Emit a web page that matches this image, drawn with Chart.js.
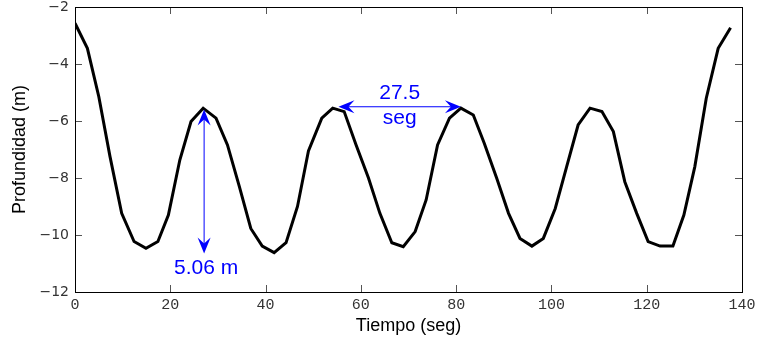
<!DOCTYPE html>
<html>
<head>
<meta charset="utf-8">
<script src="https://cdn.jsdelivr.net/npm/chart.js@4.4.0/dist/chart.umd.min.js"></script>
<style>
  html, body { margin: 0; padding: 0; background: #fff; }
  #wrap { width: 761px; height: 343px; }
</style>
</head>
<body>
<div id="wrap"><canvas id="c" width="761" height="343"></canvas></div>
<script>
// ---- data ----
const timeSec = [0, 2.6, 5.0, 7.35, 9.8, 12.4, 14.9, 17.4, 19.6, 22.0, 24.35, 26.9, 29.6, 32.0, 34.5, 36.9, 39.3, 41.8, 44.3, 46.7,
  49.0, 51.8, 54.1, 56.5, 59.0, 61.6, 64.0, 66.5, 68.9, 71.4, 73.7, 76.1, 78.6, 81.0, 83.6, 85.9, 88.5, 91.0, 93.4, 95.9,
  98.3, 100.8, 103.2, 105.6, 108.1, 110.6, 113.0, 115.4, 117.9, 120.3, 122.8, 125.5, 127.8, 130.1, 132.5, 135.0, 137.6];
const depthM = [-2.57, -3.45, -5.15, -7.25, -9.24, -10.23, -10.47, -10.23, -9.3, -7.37, -6.02, -5.55, -5.9, -6.84, -8.3, -9.77, -10.39, -10.62, -10.27, -9.0,
  -7.05, -5.9, -5.55, -5.67, -6.84, -8.0, -9.24, -10.27, -10.41, -9.88, -8.77, -6.84, -5.9, -5.55, -5.79, -6.78, -8.0, -9.24, -10.12, -10.39,
  -10.12, -9.07, -7.6, -6.14, -5.55, -5.67, -6.37, -8.13, -9.24, -10.23, -10.39, -10.39, -9.3, -7.6, -5.2, -3.45, -2.73];
const xTickValues = [0, 20, 40, 60, 80, 100, 120, 140];
const xTickLabels = ['0', '20', '40', '60', '80', '100', '120', '140'];
const yTickValues = [-12, -10, -8, -6, -4, -2];
const yTickLabels = ['\u221212', '\u221210', '\u22128', '\u22126', '\u22124', '\u22122'];
const xTitle = 'Tiempo (seg)';
const yTitle = 'Profundidad (m)';
// annotations (data coordinates)
const ampArrow = { x: 27.1, yTop: -5.6, yBottom: -10.65, label: '5.06 m' };
const periodArrow = { y: -5.5, xLeft: 55.3, xRight: 81.0, label1: '27.5', label2: 'seg' };

const points = timeSec.map((t, i) => ({ x: t, y: depthM[i] }));
const BLUE = '#0000ff';

function arrowHead(ctx, tipX, tipY, dirX, dirY) {
  const L = 16, W = 6.5, N = 10;
  const px = -dirY, py = dirX;
  const bx = tipX - dirX * L, by = tipY - dirY * L;
  const nx = tipX - dirX * N, ny = tipY - dirY * N;
  ctx.beginPath();
  ctx.moveTo(tipX, tipY);
  ctx.lineTo(bx + px * W, by + py * W);
  ctx.lineTo(nx, ny);
  ctx.lineTo(bx - px * W, by - py * W);
  ctx.closePath();
  ctx.fill();
}

const framePlugin = {
  id: 'frame',
  afterDraw(chart) {
    const { ctx, chartArea: a, scales } = chart;
    const xs = scales.x, ys = scales.y;
    ctx.save();
    // inward ticks
    ctx.strokeStyle = '#555';
    ctx.lineWidth = 1;
    ctx.beginPath();
    xTickValues.forEach(v => {
      const px = Math.round(xs.getPixelForValue(v)) + 0.5;
      ctx.moveTo(px, a.bottom); ctx.lineTo(px, a.bottom - 7);
      ctx.moveTo(px, a.top); ctx.lineTo(px, a.top + 7);
    });
    yTickValues.forEach(v => {
      const py = Math.round(ys.getPixelForValue(v)) + 0.5;
      ctx.moveTo(a.left, py); ctx.lineTo(a.left + 7, py);
      ctx.moveTo(a.right, py); ctx.lineTo(a.right - 7, py);
    });
    ctx.stroke();
    // box
    ctx.strokeStyle = '#000';
    ctx.strokeRect(Math.round(a.left) + 0.5, Math.round(a.top) + 0.5, Math.round(a.right - a.left), Math.round(a.bottom - a.top));

    // annotations
    ctx.strokeStyle = BLUE;
    ctx.fillStyle = BLUE;
    ctx.lineWidth = 1;
    // vertical arrow
    const vx = xs.getPixelForValue(ampArrow.x);
    const vt = ys.getPixelForValue(ampArrow.yTop);
    const vb = ys.getPixelForValue(ampArrow.yBottom);
    ctx.beginPath(); ctx.moveTo(vx, vt + 8); ctx.lineTo(vx, vb - 8); ctx.stroke();
    arrowHead(ctx, vx, vt, 0, -1);
    arrowHead(ctx, vx, vb, 0, 1);
    // horizontal arrow
    const hy = ys.getPixelForValue(periodArrow.y);
    const hl = xs.getPixelForValue(periodArrow.xLeft);
    const hr = xs.getPixelForValue(periodArrow.xRight);
    ctx.beginPath(); ctx.moveTo(hl + 8, hy); ctx.lineTo(hr - 8, hy); ctx.stroke();
    arrowHead(ctx, hl, hy, -1, 0);
    arrowHead(ctx, hr, hy, 1, 0);
    // labels
    ctx.font = '21px "Liberation Sans", Arial, sans-serif';
    ctx.textAlign = 'center';
    ctx.textBaseline = 'alphabetic';
    ctx.fillText(ampArrow.label, vx + 2, vb + 20);
    const hc = (hl + hr) / 2;
    ctx.fillText(periodArrow.label1, hc, hy - 8);
    ctx.fillText(periodArrow.label2, hc, hy + 17);
    ctx.restore();
  }
};

new Chart(document.getElementById('c'), {
  type: 'line',
  data: {
    datasets: [{
      data: points,
      borderColor: '#000',
      borderWidth: 3,
      pointRadius: 0,
      tension: 0,
      fill: false,
      borderJoinStyle: 'miter'
    }]
  },
  options: {
    responsive: false,
    animation: false,
    events: [],
    layout: { padding: { left: 0, right: 19, top: 7, bottom: 0 } },
    plugins: { legend: { display: false }, tooltip: { enabled: false } },
    scales: {
      x: {
        type: 'linear',
        min: 0, max: 140,
        afterFit(s) { s.height = 51; s.paddingLeft = 0; s.paddingRight = 0; },
        afterBuildTicks(s) { s.ticks = xTickValues.map(v => ({ value: v })); },
        grid: { display: false, drawTicks: false },
        border: { display: false },
        ticks: {
          padding: 4,
          color: '#333',
          font: { family: '"Liberation Mono", "DejaVu Sans Mono", monospace', size: 15 },
          maxRotation: 0,
          callback: (v) => xTickLabels[xTickValues.indexOf(v)]
        },
        title: {
          display: true, text: xTitle, color: '#000',
          font: { family: '"Liberation Sans", Arial, sans-serif', size: 18 },
          padding: { top: 0, bottom: 6 }
        }
      },
      y: {
        type: 'linear',
        min: -12, max: -2,
        afterFit(s) { s.width = 75; s.paddingTop = 0; s.paddingBottom = 0; },
        afterBuildTicks(s) { s.ticks = yTickValues.map(v => ({ value: v })); },
        grid: { display: false, drawTicks: false },
        border: { display: false },
        ticks: {
          padding: 6,
          color: '#333',
          font: { family: '"DejaVu Sans", sans-serif', size: 14 },
          callback: (v) => yTickLabels[yTickValues.indexOf(v)]
        },
        title: {
          display: true, text: yTitle, color: '#000',
          font: { family: '"Liberation Sans", Arial, sans-serif', size: 18 },
          padding: { top: 9, bottom: 0 }
        }
      }
    }
  },
  plugins: [framePlugin]
});
</script>
</body>
</html>
